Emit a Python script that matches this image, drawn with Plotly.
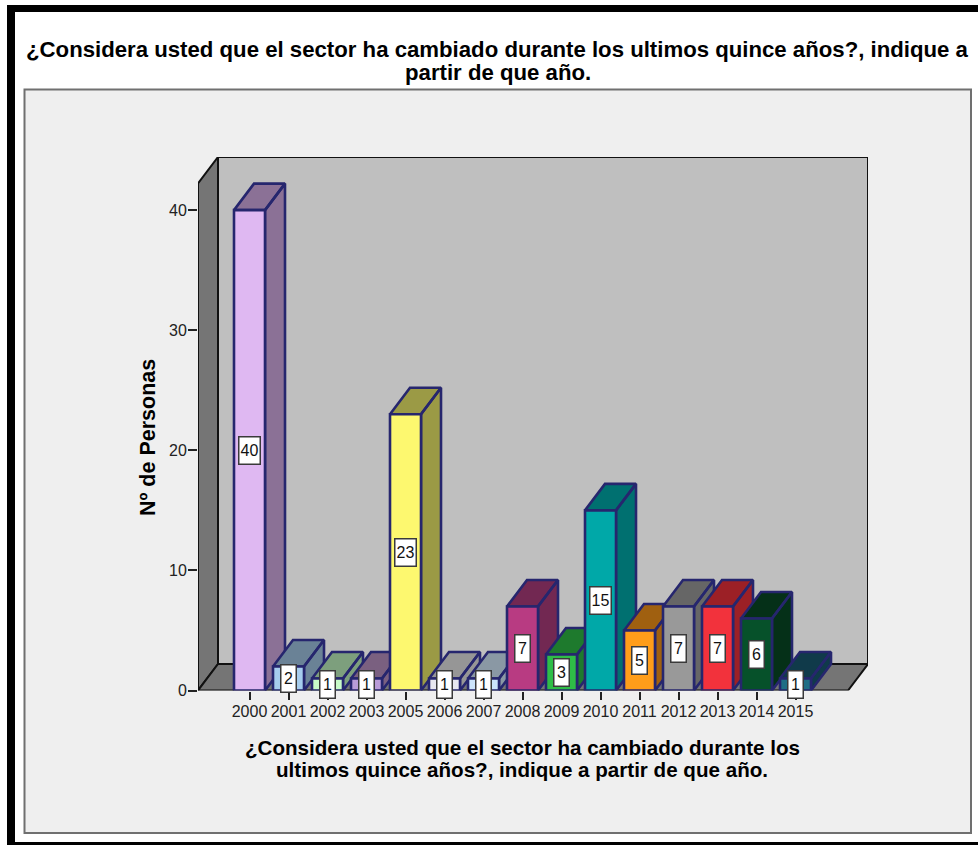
import plotly.graph_objects as go

YEARS = ["2000", "2001", "2002", "2003", "2005", "2006", "2007", "2008",
         "2009", "2010", "2011", "2012", "2013", "2014", "2015"]
PERSONAS = [40, 2, 1, 1, 23, 1, 1, 7, 3, 15, 5, 7, 7, 6, 1]
FRONT_COLORS = ["#dfb8f2", "#a6cdee", "#c8fbc8", "#b99cd8", "#fdf86f",
                "#e8e8f0", "#cce4fb", "#b83b82", "#2fbd47", "#00a8a8",
                "#ff9d1a", "#999999", "#f2323c", "#06512a", "#1f6e85"]
SHADE_COLORS = ["#8b7196", "#6a8296", "#7d9f7d", "#7a6080", "#9b9a45",
                "#969696", "#8a98a4", "#722852", "#1e7a2d", "#007070",
                "#a06010", "#666666", "#9c2026", "#053018", "#103a4a"]
MAIN_TITLE_LINES = ["¿Considera usted que el sector ha cambiado durante los ultimos quince años?, indique a",
                    "partir de que año."]
X_TITLE_LINES = ["¿Considera usted que el sector ha cambiado durante los",
                 "ultimos quince años?, indique a partir de que año."]
Y_TITLE = "Nº de Personas"

W, H = 978, 845
FONT = "Liberation Sans"
EDGE = "#26266e"

# Pixel box of the plot area, and the oblique offset of the 3D projection
LEFT, RIGHT, TOP, BOTTOM = 198, 868, 157, 690.5
STEP = 39.0                # pixels per category
UNIT = 12.01               # pixels per person
FIRST_CENTER = 249.5
BAR_W = 31 / STEP
DX = 20 / STEP
DY = 26.5 / UNIT

x_min = (LEFT - FIRST_CENTER) / STEP
x_max = (RIGHT - FIRST_CENTER) / STEP
y_max = (BOTTOM - TOP) / UNIT
wall_top = y_max - DY
x_floor = x_max - DX


def px(x):
    return x / W


def py(y):
    return 1 - y / H


fig = go.Figure()

# Box walls: back, left side and floor
wall_style = dict(mode="lines", fill="toself", hoverinfo="skip",
                  showlegend=False, line=dict(color="#111111", width=2))
fig.add_trace(go.Scatter(
    x=[x_min + DX, x_max, x_max, x_min + DX, x_min + DX],
    y=[DY, DY, y_max, y_max, DY],
    fillcolor="#bfbfbf", **wall_style))
fig.add_trace(go.Scatter(
    x=[x_min, x_min + DX, x_min + DX, x_min, x_min],
    y=[0, DY, y_max, wall_top, 0],
    fillcolor="#757575", **wall_style))
fig.add_trace(go.Scatter(
    x=[x_min, x_floor, x_max, x_min + DX, x_min],
    y=[0, 0, DY, DY, 0],
    fillcolor="#757575", **wall_style))

# Side and top faces, painted left to right so each overlaps its neighbour
half = BAR_W / 2
for i, (v, shade) in enumerate(zip(PERSONAS, SHADE_COLORS)):
    l, r = i - half, i + half
    fig.add_trace(go.Scatter(
        x=[r, r + DX, r + DX, r, r, None, l, l + DX, r + DX, r, l],
        y=[0, DY, v + DY, v, 0, None, v, v + DY, v + DY, v, v],
        mode="lines", fill="toself", fillcolor=shade,
        line=dict(color=EDGE, width=2.6), hoverinfo="skip", showlegend=False))

# Front faces sit on an overlaid axis pair, above every side face
fig.add_trace(go.Bar(
    x=list(range(len(YEARS))), y=PERSONAS, width=BAR_W,
    marker=dict(color=FRONT_COLORS, line=dict(color=EDGE, width=2.6)),
    xaxis="x2", yaxis="y2", showlegend=False, hoverinfo="skip"))

annotations = [
    dict(x=i, y=v / 2, xref="x2", yref="y2", text=str(v), showarrow=False,
         font=dict(family=FONT, size=16, color="#111111"), bgcolor="#ffffff",
         bordercolor="#3a3a3a", borderwidth=1.5,
         width=(20 if v >= 10 else 14), height=26, align="center",
         valign="middle", borderpad=0)
    for i, v in enumerate(PERSONAS)
]


def text_at(x, y, text, size, **extra):
    return dict(x=px(x), y=py(y), xref="paper", yref="paper",
                text=f"<b>{text}</b>", showarrow=False, align="center",
                xanchor="center", yanchor="middle",
                font=dict(family=FONT, size=size, color="#000000"), **extra)


annotations += [
    text_at(498, 50, MAIN_TITLE_LINES[0], 22.2),
    text_at(498, 73, MAIN_TITLE_LINES[1], 22.2),
    text_at(522, 747, X_TITLE_LINES[0], 20.6),
    text_at(522, 769, X_TITLE_LINES[1], 20.6),
    text_at(148, 438, Y_TITLE, 21.5, textangle=-90),
]


def rect(x0, y0, x1, y1, fill, line=None, width=0):
    return dict(type="rect", xref="paper", yref="paper", layer="below",
                x0=px(x0), x1=px(x1), y0=py(y0), y1=py(y1), fillcolor=fill,
                line=dict(color=line or fill, width=width))


# Black outer frame and the grey chart panel
shapes = [
    rect(7, 5, W, 12, "#000000"),
    rect(7, 5, 15, H, "#000000"),
    rect(15, 842, W, H, "#000000"),
    rect(24.5, 89.5, 971, 833, "#efefef", "#707070", 2),
]

domain_x = [px(LEFT), px(RIGHT)]
domain_y = [py(BOTTOM), py(TOP)]
tick_font = dict(family=FONT, size=16, color="#222222")

fig.update_layout(
    width=W, height=H,
    margin=dict(l=0, r=0, t=0, b=0, pad=0, autoexpand=False),
    paper_bgcolor="#ffffff", plot_bgcolor="rgba(0,0,0,0)",
    showlegend=False, shapes=shapes, annotations=annotations,
    xaxis=dict(domain=domain_x, range=[x_min, x_max], tickmode="array",
               tickvals=list(range(len(YEARS))), ticktext=YEARS,
               ticks="outside", ticklen=8, tickwidth=1.5, tickcolor="#222222",
               ticklabelstandoff=-2, tickfont=tick_font, showgrid=False,
               zeroline=False, showline=False, fixedrange=True,
               automargin=False),
    yaxis=dict(domain=domain_y, range=[0, y_max], tickmode="array",
               tickvals=[0, 10, 20, 30, 40], ticks="outside", ticklen=9,
               tickwidth=1.5, tickcolor="#222222", ticklabelstandoff=-2,
               tickfont=tick_font, showgrid=False, zeroline=False,
               showline=False, fixedrange=True, automargin=False),
    xaxis2=dict(domain=domain_x, range=[x_min, x_max], overlaying="x",
                visible=False, fixedrange=True),
    yaxis2=dict(domain=domain_y, range=[0, y_max], overlaying="y",
                visible=False, fixedrange=True),
)

fig.write_html("out.html", config=dict(displayModeBar=False))
